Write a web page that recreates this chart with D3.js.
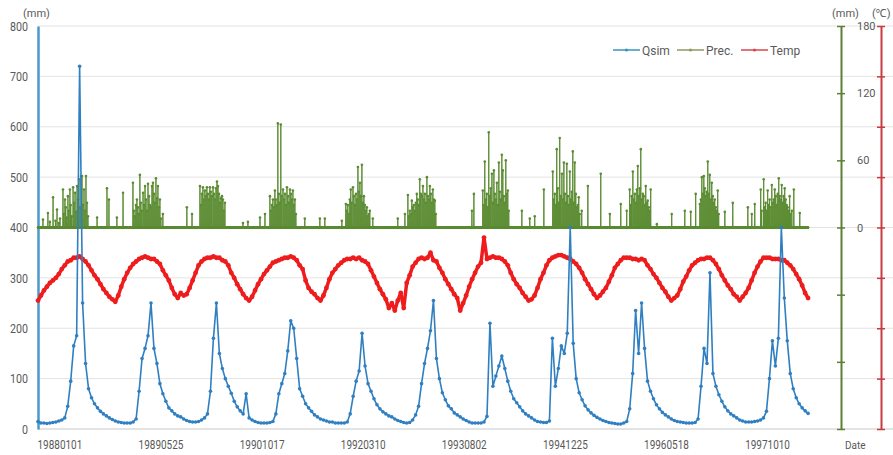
<!DOCTYPE html>
<html>
<head>
<meta charset="utf-8">
<script src="https://cdn.jsdelivr.net/npm/d3@7"></script>
<style>
  body { margin: 0; background: #fff; }
  text { font-family: Roboto, "Noto Sans", sans-serif; fill: #595959; }
</style>
</head>
<body>
<svg id="chart" width="893" height="455"></svg>
<script>
// readings every 15 days starting 1988-01-01
const sampleStep = 15
const lastDay = 3885

// simulated discharge (mm), left axis
const qsim = [
  15,12,12,11,12,13,14,16,18,22, 45,95,165,185,720,250,130,80,62,50,
  42,35,30,26,22,19,16,14,13,12, 12,12,14,20,75,140,160,185,250,160,
  130,90,70,55,42,36,30,26,24,20, 17,15,14,14,15,18,22,30,75,180,
  250,150,120,100,85,71,55,44,36,30, 70,22,18,15,13,12,12,12,13,15,
  30,70,90,110,155,215,200,140,80,65, 50,42,35,28,24,20,18,16,14,14,
  12,12,12,12,14,30,65,95,115,190, 125,90,75,60,48,40,34,30,26,24,
  20,17,15,13,12,13,18,28,45,90, 130,160,195,255,140,100,72,58,46,40,
  32,28,24,20,17,14,12,12,12,12, 14,25,210,85,105,125,145,120,95,75,
  60,52,44,36,30,26,22,18,15,14, 13,13,16,180,85,120,165,150,190,400,
  170,100,72,58,46,38,32,27,23,20, 17,15,13,12,11,10,10,12,15,40,
  110,235,150,250,160,95,75,60,48,40, 33,28,24,20,17,15,14,13,12,12,
  12,13,20,85,160,130,310,110,85,68, 55,44,36,30,26,22,18,16,14,14,
  14,15,16,18,22,35,100,175,125,180, 400,260,175,110,80,62,50,42,36,31
]

// air temperature (deg C), red axis
const temp = [
  11,13,15,16.5,18,19,20,21.5,23.5,25, 26.5,27,28,28,28.5,27.5,26.5,25,23,21,
  19.5,17.5,15.5,14,12.5,11.5,10.5,13,16.5,19.5, 22,24,25.5,26.5,27.5,28,28.5,28,27.5,27.5,
  26.5,25.5,23,21,19,16,13.5,12,14,13, 13.5,16,19,22,25,26.5,27.5,28,28,28.5,
  28,28,27,26.5,25,22,20,17.5,15.5,13.5, 12,11,12.5,15,17.5,19.5,21.5,23,24.5,26,
  26.5,27,27.5,28,28,28.5,28,27,25,23.5, 19,16,14.5,13.5,12,11,13,16,19.5,22,
  23.5,25,26,27,27.5,27.5,28,27.5,28,27, 26.5,25.5,23,20.5,18,15.5,13.5,11.5,8,10,
  7,11,14,8,18,21,24.5,26,27.5,28, 27.5,28,30,27,26.5,24,22,19.5,17.5,15.5,
  13.5,12,7,10,13,16.5,19.5,22,24.5,26, 36,27.5,28,28.5,28,28,27.5,26.5,25,22,
  19.5,17.5,16,14,12.5,11,11.5,13,16,19.5, 22,25,27,28,28.5,29,29,28.5,28,27.5,
  26.5,25.5,24,22,19.5,17.5,15.5,13.5,12,13, 14.5,16,18.5,21,24,25.5,27,28,28,28,
  27.5,27.5,27,27.5,27,25,23.5,21.5,20,18, 16,14.5,12.5,11,12,13,15.5,18.5,20.5,23,
  25,26,27,27.5,27.5,28,28,27,25.5,23.5, 21,19,17,15.5,13.5,12.5,11,12.5,14,16,
  19,22,24.5,26.5,28,28,28,27.5,27.5,27.5, 27,27,26,25,23.5,21.5,19.5,17,14,12
]

// rain days: [day since 1988-01-01, mm], green axis; other days are 0
const prec = [
  [25,7],[50,13],[60,5],[76,27],[88,6],[96,16],[105,4],[111,8],[126,34],[130,12],[136,25],[140,18],
  [145,9],[151,28],[155,15],[161,34],[165,20],[170,10],[177,36],[182,22],[187,31],[192,14],[197,37],
  [202,25],[207,43],[212,18],[217,46],[222,46],[227,20],[232,34],[237,15],[242,46],[247,22],[252,10],
  [298,9],[348,35],[358,25],[398,9],[429,31],
  [479,40],[484,15],[489,10],[494,20],[499,25],[504,18],[509,12],[514,47],[519,22],[524,15],[530,31],
  [535,20],[540,37],[545,25],[550,15],[555,39],[560,28],[565,20],[570,18],[575,37],[580,40],[585,30],
  [590,22],[595,44],[600,26],[605,37],[610,18],[615,25],[620,8],[630,12],[751,18],[777,12],
  [817,37],[822,20],[827,30],[832,36],[837,25],[842,33],[847,28],[852,36],[857,30],[862,25],[867,36],
  [872,32],[877,28],[883,36],[888,30],[893,25],[898,35],[903,41],[908,37],[913,30],[918,22],[923,26],
  [928,28],[933,25],[938,15],[943,22],[1034,4],[1059,5],
  [1120,9],[1145,12],[1170,28],[1175,15],[1180,20],[1185,25],[1190,18],[1195,33],[1200,25],[1205,20],
  [1210,93],[1215,30],[1220,22],[1225,92],[1230,28],[1236,34],[1241,25],[1246,30],[1251,20],[1256,36],
  [1261,28],[1266,22],[1271,34],[1276,30],[1281,25],[1286,33],[1291,20],[1296,25],[1301,12],[1346,8],
  [1422,8],[1447,8],
  [1533,6],[1553,21],[1558,15],[1563,20],[1568,12],[1573,25],[1578,34],[1583,22],[1589,36],[1594,28],
  [1599,20],[1604,30],[1609,25],[1614,54],[1619,32],[1624,40],[1629,28],[1634,56],[1639,22],[1644,28],
  [1649,20],[1654,15],[1659,18],[1664,10],[1669,12],[1674,15],[1689,8],[1815,8],
  [1851,12],[1866,29],[1871,10],[1876,15],[1881,12],[1886,24],[1891,18],[1896,20],[1901,15],[1906,22],
  [1911,30],[1916,25],[1921,20],[1926,43],[1931,30],[1937,28],[1942,37],[1947,25],[1952,30],[1957,22],
  [1962,45],[1967,28],[1972,25],[1977,37],[1982,30],[1987,22],[1992,34],[1997,25],[2002,24],[2007,12],
  [2189,15],[2199,30],[2244,33],[2249,20],[2254,59],[2259,25],[2264,30],[2269,18],[2274,85],[2279,28],
  [2284,35],[2290,48],[2295,22],[2300,51],[2305,30],[2310,25],[2315,40],[2320,20],[2325,58],[2330,32],
  [2335,25],[2340,65],[2345,51],[2350,28],[2355,22],[2360,60],[2365,30],[2370,33],[2375,15],[2441,15],
  [2481,8],[2506,10],
  [2552,34],[2597,50],[2602,25],[2607,30],[2612,20],[2617,70],[2622,35],[2627,22],[2632,80],[2637,28],
  [2643,48],[2648,25],[2653,58],[2658,30],[2663,22],[2668,57],[2673,28],[2678,20],[2683,50],[2688,25],
  [2693,32],[2698,68],[2703,22],[2708,58],[2713,30],[2718,18],[2723,20],[2728,27],[2733,12],[2743,15],
  [2774,37],[2839,48],[2885,12],
  [2940,21],[2970,15],[2985,34],[2990,20],[2995,28],[3001,50],[3006,25],[3011,30],[3016,22],[3021,34],
  [3026,55],[3031,28],[3036,35],[3041,70],[3046,25],[3051,30],[3056,28],[3061,20],[3066,37],[3071,22],
  [3076,24],[3081,18],[3086,15],[3091,34],[3122,3],[3197,12],
  [3263,15],[3293,14],[3318,30],[3339,21],[3344,25],[3349,45],[3354,30],[3359,46],[3364,35],[3369,28],
  [3374,32],[3379,59],[3384,30],[3389,47],[3394,25],[3399,40],[3404,28],[3409,22],[3414,25],[3419,18],
  [3424,15],[3429,33],[3434,12],[3465,14],[3505,22],
  [3581,18],[3601,12],[3616,21],[3646,34],[3651,15],[3661,43],[3666,18],[3671,22],[3676,15],[3681,33],
  [3686,20],[3691,25],[3697,18],[3702,38],[3707,22],[3712,25],[3717,34],[3722,28],[3727,20],[3732,30],
  [3737,44],[3742,28],[3747,25],[3752,38],[3757,22],[3762,28],[3767,35],[3772,25],[3777,20],[3782,18],
  [3787,15],[3792,28],[3797,12],[3803,15],[3813,34],[3843,13]
]

// category labels, one every 510 days
const xLabels = ['19880101','19890525','19901017','19920310','19930802','19941225','19960518','19971010']
const labelStep = 510
const leftTicks = [0,100,200,300,400,500,600,700,800]
const precTicks = [-180,-120,-60,0,60,120,180]
const tempTicks = [-40,-20,0,20,40,60,80,100,120]
const seriesNames = ['Qsim','Prec.','Temp']

const qColor = '#2f7fc1', pColor = '#5b8c32', tColor = '#ee1c1c'
const W = 893
const plot = { left: 38, right: 841, top: 26, bottom: 429 }

const svg = d3.select('#chart')

const x = d3.scaleLinear().domain([0, 4051]).range([plot.left, plot.right])
const yQ = d3.scaleLinear().domain([0, 800]).range([plot.bottom, plot.top])
const yP = d3.scaleLinear().domain([-180, 180]).range([plot.bottom, plot.top])
const yT = d3.scaleLinear().domain([-40, 120]).range([plot.bottom, plot.top])

// squeeze digits a bit, the original font is narrow
function squeeze(sel, perChar) {
  sel.each(function() {
    const t = d3.select(this).text()
    if (t.length) d3.select(this).attr('textLength', t.length * perChar).attr('lengthAdjust', 'spacingAndGlyphs')
  })
}

// gridlines
svg.append('g').attr('class', 'grid')
  .selectAll('line').data(leftTicks).join('line')
  .attr('x1', plot.left).attr('x2', W)
  .attr('y1', d => yQ(d)).attr('y2', d => yQ(d))
  .attr('stroke', d => d === 0 ? '#c8c8c8' : '#e3e3e3')
  .attr('stroke-width', 1)

// left axis
const gL = svg.append('g').attr('transform', `translate(${plot.left},0)`)
  .call(d3.axisLeft(yQ).tickValues(leftTicks).tickSize(0).tickPadding(10))
gL.select('.domain').attr('stroke', '#4a98cc').attr('stroke-width', 2.5)
gL.selectAll('text').attr('font-size', 13).attr('fill', '#595959').call(squeeze, 6)
svg.append('text').attr('x', 23).attr('y', 17).attr('font-size', 11).attr('fill', '#404040').text('(mm)')

// bottom axis labels
const gB = svg.append('g').attr('transform', `translate(0,${plot.bottom})`)
  .call(d3.axisBottom(x).tickValues(xLabels.map((d, i) => i * labelStep))
    .tickFormat((d, i) => xLabels[i]).tickSize(0).tickPadding(11))
gB.select('.domain').remove()
gB.selectAll('text').attr('font-size', 13).attr('text-anchor', 'start')
  .attr('dx', -1).call(squeeze, 5.6)
svg.append('text').attr('x', 845).attr('y', 449).attr('font-size', 10).text('Date')

// precipitation axis (green)
const gP = svg.append('g').attr('transform', `translate(${plot.right},0)`)
  .call(d3.axisRight(yP).tickValues(precTicks).tickFormat(d => d >= 0 ? d : '')
    .tickSizeOuter(0).tickSizeInner(4).tickPadding(12))
gP.select('.domain').attr('stroke', '#5d7f34').attr('stroke-width', 2)
gP.selectAll('.tick line').attr('x1', -4).attr('stroke', '#5d7f34').attr('stroke-width', 1.5)
gP.selectAll('text').attr('font-size', 11).attr('fill', '#7f7f7f')
svg.append('text').attr('x', 832).attr('y', 17).attr('font-size', 11).attr('fill', '#404040').text('(mm)')

// temperature axis (red), its labels run off the right edge as in the source
const gT = svg.append('g').attr('transform', 'translate(881,0)')
  .call(d3.axisRight(yT).tickValues(tempTicks).tickFormat(d => d >= 0 && d <= 60 ? d : '')
    .tickSizeOuter(0).tickSizeInner(4).tickPadding(8))
gT.select('.domain').attr('stroke', '#c93a3e').attr('stroke-width', 2)
gT.selectAll('.tick line').attr('x1', -4).attr('stroke', '#c93a3e').attr('stroke-width', 1.5)
gT.selectAll('text').attr('font-size', 11).attr('fill', '#7f7f7f')
svg.append('text').attr('x', 872).attr('y', 17).attr('font-size', 11).attr('fill', '#404040').text('(℃)')

// series data
const precSeries = d3.range(0, lastDay + 1).map(d => ({ day: d, v: 0 }))
prec.forEach(([d, v]) => { precSeries[d].v = v })
const qSeries = qsim.map((v, i) => ({ day: i * sampleStep, v }))
const tSeries = temp.map((v, i) => ({ day: i * sampleStep, v }))

function drawSeries(data, y, color, width, r, cls) {
  const g = svg.append('g').attr('class', cls)
  g.append('path').datum(data)
    .attr('fill', 'none').attr('stroke', color).attr('stroke-width', width)
    .attr('stroke-linejoin', 'round')
    .attr('d', d3.line().x(d => x(d.day)).y(d => y(d.v)))
  g.selectAll('circle').data(data).join('circle')
    .attr('cx', d => x(d.day)).attr('cy', d => y(d.v)).attr('r', r)
    .attr('fill', color)
}

drawSeries(precSeries, yP, pColor, 1, 1.3, 'prec')
drawSeries(tSeries, yT, tColor, 3.5, 2.4, 'temp')
drawSeries(qSeries, yQ, qColor, 1.6, 1.8, 'qsim')

// legend
const legendX = [613, 677, 741]
const legendColors = ['#3a94b8', '#8d9a62', '#d9474d']
const lg = svg.append('g').attr('class', 'legend')
seriesNames.forEach((name, i) => {
  const g = lg.append('g').attr('transform', `translate(${legendX[i]},50)`)
  g.append('line').attr('x1', 0).attr('x2', 27).attr('stroke', legendColors[i]).attr('stroke-width', 1.5)
  g.append('circle').attr('cx', 13.5).attr('r', 1.6).attr('fill', legendColors[i])
  g.append('text').attr('x', 29).attr('y', 4.5).attr('font-size', 12).text(name)
})
</script>
</body>
</html>
